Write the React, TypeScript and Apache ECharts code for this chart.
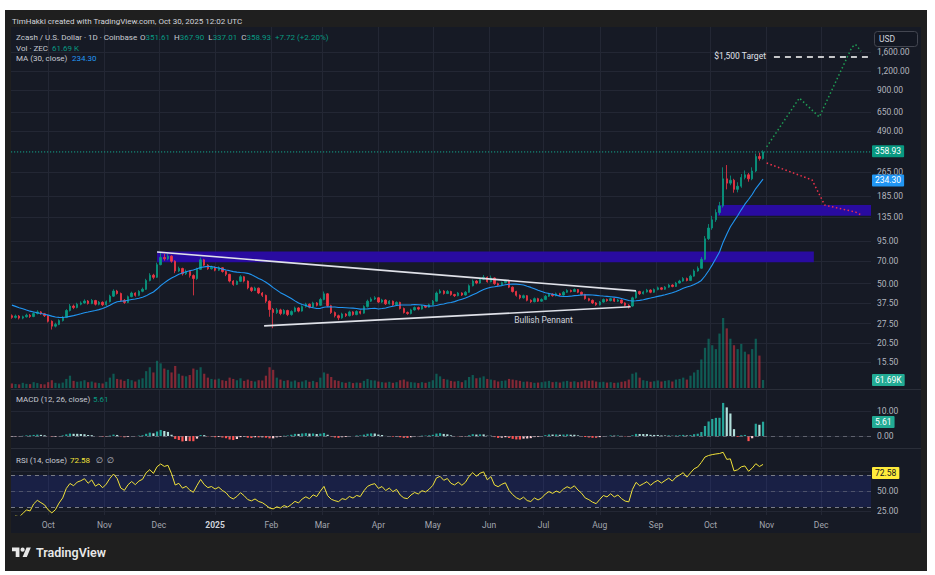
import React, { useEffect, useRef } from 'react';
import * as echarts from 'echarts';

// ---------------- data ----------------
const firstCandleDate = '2024-09-11';
const candleStepDays = 2;
const firstOpen = 31.0;
// closes before the first visible candle (warm-up for MA / RSI / MACD)
const preCloses = [41.0, 40.2, 39.5, 40.8, 38.6, 37.9, 39.0, 37.2, 36.0, 34.8, 33.5, 32.9, 31.8, 31.2];

const closes = [
  30.2, 30.8, 29.9, 30.5, 31.2, 30.6, 32.0, 32.8, 31.9, 31.0,
  28.5, 26.5, 27.2, 28.8, 30.2, 33.5, 35.8, 35.0, 36.8, 37.5,
  38.6, 37.2, 38.9, 36.8, 37.9, 36.5, 38.2, 41.5, 44.8, 43.2,
  39.0, 37.8, 41.2, 43.5, 42.0, 44.6, 46.0, 52.5, 56.8, 55.0,
  66.5, 74.0, 72.5, 75.5, 70.0, 60.5, 62.8, 58.0, 60.2, 56.5,
  54.0, 62.0, 71.5, 66.0, 62.5, 64.0, 61.2, 63.5, 60.0, 57.5,
  52.0, 49.5, 51.8, 55.5, 52.0, 47.0, 45.2, 46.8, 43.5, 42.0,
  38.5, 34.0, 32.5, 33.8, 32.0, 33.5, 31.5, 33.0, 34.8, 33.2,
  35.5, 36.8, 35.2, 37.5, 36.2, 39.5, 43.0, 36.0, 32.5, 31.0,
  30.0, 31.8, 31.0, 32.8, 31.5, 33.0, 32.2, 35.5, 38.5, 39.8,
  40.5, 38.0, 39.2, 37.0, 38.5, 36.5, 37.8, 34.5, 32.5, 32.0,
  33.8, 35.0, 34.2, 35.8, 35.2, 36.5, 38.5, 43.5, 44.8, 43.2,
  44.5, 42.5, 41.8, 43.5, 42.2, 44.0, 48.5, 52.0, 50.5, 53.5,
  55.0, 51.5, 54.5, 50.0, 49.0, 50.8, 52.0, 47.5, 44.5, 42.0,
  40.5, 41.8, 39.0, 38.2, 40.0, 38.5, 39.5, 41.5, 42.8, 41.8,
  43.0, 42.2, 44.0, 45.2, 44.5, 45.8, 44.0, 42.5, 40.0, 39.0,
  37.5, 36.5, 38.0, 39.5, 38.8, 40.0, 38.5, 39.2, 37.5, 36.2,
  35.8, 40.5, 44.5, 43.0, 44.2, 45.5, 44.0, 45.8, 47.0, 46.0,
  47.5, 49.0, 48.0, 50.5, 52.0, 54.0, 52.5, 56.0, 60.5, 63.0,
  72.0, 98.0, 115, 130, 145, 160, 240, 225, 235, 205,
  215, 245, 255, 240, 270, 335, 325, 358.93,
];

const highs = [
  31.6, 31.5, 31.3, 31.0, 31.9, 31.8, 32.6, 33.6, 33.2, 32.3,
  31.4, 28.9, 27.9, 29.4, 30.8, 34.2, 36.9, 36.6, 37.6, 38.4,
  39.6, 39.2, 39.8, 39.3, 38.6, 38.4, 38.9, 42.4, 46.0, 45.6,
  43.8, 39.8, 41.9, 44.4, 44.0, 45.4, 47.2, 53.8, 58.5, 58.0,
  68.5, 80.5, 78.0, 78.5, 76.5, 71.0, 64.5, 63.5, 61.8, 61.0,
  57.5, 63.5, 74.0, 72.5, 67.0, 65.5, 64.8, 64.8, 64.0, 60.8,
  58.0, 52.8, 52.5, 56.8, 56.2, 52.5, 47.8, 47.8, 47.2, 44.2,
  42.5, 39.0, 34.8, 34.8, 34.4, 34.2, 33.9, 33.6, 35.5, 35.2,
  36.2, 37.6, 37.2, 38.2, 38.0, 40.5, 44.5, 43.5, 36.5, 33.0,
  31.5, 32.4, 32.2, 33.4, 33.2, 33.6, 33.5, 36.2, 39.4, 40.8,
  41.5, 41.0, 39.9, 39.6, 39.2, 38.9, 38.4, 38.2, 35.0, 33.0,
  34.4, 35.6, 35.5, 36.4, 36.3, 37.1, 39.2, 44.5, 46.0, 45.4,
  45.5, 45.0, 43.0, 44.2, 44.0, 44.8, 49.5, 53.2, 52.8, 54.6,
  57.0, 55.8, 56.5, 55.0, 50.8, 51.6, 53.0, 52.5, 48.0, 45.0,
  42.6, 42.5, 42.2, 39.6, 40.7, 40.5, 40.2, 42.2, 43.6, 43.3,
  43.8, 43.6, 44.8, 46.0, 45.8, 46.6, 46.2, 44.5, 43.0, 40.5,
  39.5, 38.0, 38.6, 40.1, 40.0, 40.6, 40.4, 39.8, 39.6, 37.9,
  36.8, 41.2, 45.5, 45.0, 45.0, 46.3, 46.0, 46.6, 47.9, 47.6,
  48.3, 49.9, 49.6, 51.4, 53.0, 55.2, 54.8, 57.2, 62.0, 64.8,
  74.5, 102, 122, 138, 152, 170, 285, 295, 252, 240,
  228, 258, 272, 262, 285, 350, 355, 367.9,
];

const lows = [
  29.6, 29.7, 29.3, 29.4, 30.1, 30.0, 30.3, 31.6, 31.4, 30.4,
  28.0, 25.2, 26.0, 26.9, 28.4, 29.9, 33.0, 34.2, 34.6, 36.2,
  37.0, 36.6, 36.8, 36.1, 36.2, 35.8, 36.0, 37.8, 41.0, 42.5,
  38.2, 37.0, 37.4, 40.8, 41.2, 41.5, 44.0, 45.5, 51.8, 53.5,
  54.5, 65.8, 70.5, 71.0, 68.5, 58.5, 59.5, 56.5, 57.0, 54.8,
  42.0, 53.0, 61.5, 65.0, 61.5, 61.8, 60.2, 60.5, 59.0, 56.0,
  51.0, 48.5, 49.0, 51.2, 51.0, 46.0, 44.2, 44.8, 42.8, 41.0,
  37.5, 30.5, 25.7, 31.8, 31.2, 31.5, 30.8, 31.0, 32.6, 32.6,
  32.9, 35.0, 34.6, 34.9, 35.6, 35.8, 39.0, 35.2, 31.8, 30.2,
  29.0, 29.6, 30.4, 30.6, 31.0, 31.2, 31.6, 31.9, 35.0, 38.0,
  39.2, 37.4, 37.5, 36.4, 36.6, 35.9, 36.0, 34.0, 32.0, 31.4,
  31.6, 33.4, 33.6, 33.9, 34.7, 34.9, 36.2, 38.2, 43.0, 42.5,
  42.8, 41.8, 41.0, 41.4, 41.6, 41.8, 43.6, 48.0, 49.6, 50.0,
  52.8, 50.8, 51.0, 49.2, 48.0, 48.5, 50.2, 46.8, 43.8, 41.2,
  39.6, 40.0, 38.4, 37.5, 37.8, 38.0, 38.1, 39.1, 41.0, 41.2,
  41.4, 41.6, 41.8, 43.6, 43.9, 44.1, 43.4, 41.9, 39.4, 38.4,
  36.9, 35.9, 36.1, 37.6, 38.2, 38.4, 38.0, 38.0, 37.0, 35.6,
  34.5, 35.4, 40.0, 42.3, 42.6, 43.8, 43.4, 43.6, 45.3, 45.4,
  45.6, 47.0, 47.4, 47.6, 50.0, 51.5, 51.8, 52.0, 55.5, 59.8,
  62.5, 71.0, 96, 112, 126, 140, 156, 205, 218, 195,
  196, 210, 238, 230, 235, 265, 315, 320,
];

const volumesK = [
  35, 30, 28, 40, 32, 30, 45, 38, 30, 28,
  45, 60, 40, 35, 42, 70, 95, 55, 48, 52,
  60, 45, 50, 42, 38, 35, 48, 80, 110, 70,
  65, 55, 70, 60, 50, 65, 75, 130, 160, 120,
  210, 190, 150, 140, 120, 170, 110, 95, 90, 100,
  150, 140, 160, 110, 80, 70, 65, 72, 60, 55,
  80, 70, 60, 75, 55, 65, 55, 50, 60, 58,
  95, 160, 140, 80, 65, 55, 60, 50, 58, 45,
  50, 60, 48, 55, 45, 80, 120, 110, 85, 60,
  55, 45, 40, 48, 38, 42, 40, 55, 70, 60,
  58, 50, 45, 42, 48, 40, 45, 60, 65, 50,
  45, 42, 38, 45, 40, 48, 60, 110, 90, 70,
  65, 55, 50, 55, 45, 60, 85, 100, 75, 80,
  90, 70, 65, 60, 50, 55, 58, 70, 65, 60,
  55, 48, 50, 45, 40, 42, 45, 50, 55, 45,
  48, 42, 50, 55, 48, 52, 45, 50, 60, 55,
  58, 50, 45, 48, 42, 45, 40, 42, 48, 52,
  65, 110, 120, 80, 60, 55, 48, 52, 58, 50,
  55, 60, 50, 65, 70, 80, 65, 95, 120, 140,
  220, 310, 380, 330, 300, 420, 540, 460, 380, 330,
  300, 340, 280, 260, 300, 380, 250, 61.69,
];

// axes
const priceRange = [10.51, 2325];
const priceTicks = [15.5, 20.5, 27.5, 37.5, 50, 70, 95, 135, 185, 265, 490, 650, 900, 1200, 1600];
const volumeMaxK = 2784;
const macdRange = [-4.4, 18.4];
const macdTicks = [0, 10];
const rsiRange = [20, 102.5];
const rsiTicks = [25, 50, 75];
const rsiTickLabels = [25, 50];
const rsiLevels = [70, 50, 30];
const viewRange = ['2024-09-10T12:00:00Z', '2025-12-28T12:00:00Z'];
const timeTickDates = [
  '2024-10-01', '2024-11-01', '2024-12-01', '2025-01-01', '2025-02-01', '2025-03-01', '2025-04-01', '2025-05-01',
  '2025-06-01', '2025-07-01', '2025-08-01', '2025-09-01', '2025-10-01', '2025-11-01', '2025-12-01',
];
const timeTickLabels = ['Oct', 'Nov', 'Dec', '2025', 'Feb', 'Mar', 'Apr', 'May', 'Jun', 'Jul', 'Aug', 'Sep', 'Oct', 'Nov', 'Dec'];

// drawings
const resistanceZoneDates = ['2024-11-30', '2025-11-27'];
const resistanceZonePrices = [69, 80.8];
const breakoutZoneDates = ['2025-10-05', '2025-12-28T12:00:00Z'];
const breakoutZonePrices = [138, 162.5];
const pennantTop = [['2024-11-30', 80.4], ['2025-08-21', 44.9]];
const pennantBottom = [['2025-01-28', 26.6], ['2025-08-18', 35.4]];
const pennantLabel = ['2025-07-01', 29.2];
const bullPath = [['2025-11-01', 387], ['2025-11-19', 804], ['2025-11-30', 605], ['2025-12-18', 1720], ['2025-12-20', 1790], ['2025-12-23', 1620]];
const bearPath = [['2025-11-01', 304], ['2025-11-26', 236], ['2025-12-03', 162], ['2025-12-20', 146], ['2025-12-23', 140]];
const targetStart = '2025-11-05';
const targetPrice = 1500;

// current values shown in tags / legend
const lastClose = 358.93;
const maLast = 234.3;
const volLastK = 61.69;
const macdLast = 5.61;
const rsiLast = 72.58;

// ---------------- helpers ----------------
const DAY = 86400000;
const FONT = 'Roboto, "Noto Sans", "DejaVu Sans", sans-serif';
const UP = '#089981';
const DOWN = '#f23645';
const GRID = '#232734';
const AXIS_TXT = '#b2b5be';
const L = (v: number) => Math.log10(v);
const T = (s: string) => Date.parse(s.length === 10 ? s + 'T00:00:00Z' : s);
const fmt2 = (v: number) => v.toLocaleString('en-US', { minimumFractionDigits: 2, maximumFractionDigits: 2 });

try {
  echarts.graphic.registerShape(
    'tvlogo2',
    echarts.graphic.extendPath('M14 22H7V11H0V4h14v18zM28 22h-8l7.5-18h8L28 22zM24 8a4 4 0 1 1-8 0a4 4 0 1 1 8 0z', {}) as any
  );
} catch (e) {
  // ignore
}

function ema(src: number[], n: number) {
  const k = 2 / (n + 1);
  const out: number[] = [];
  let e = src[0];
  src.forEach((v, i) => {
    e = i === 0 ? v : e + k * (v - e);
    out.push(e);
  });
  return out;
}

function buildOption() {
  const t0 = T(firstCandleDate);
  const times = closes.map((_, i) => t0 + i * candleStepDays * DAY);
  const opens = closes.map((_, i) => (i === 0 ? firstOpen : closes[i - 1]));
  const candleData = closes.map((c, i) => {
    const o = opens[i];
    const h = Math.max(highs[i], o, c);
    const l = Math.min(lows[i], o, c);
    return [times[i], L(o), L(c), L(l), L(h)];
  });
  const volData = volumesK.map((v, i) => ({
    value: [times[i], v],
    itemStyle: { color: closes[i] >= opens[i] ? 'rgba(8,153,129,0.5)' : 'rgba(242,54,69,0.5)' },
  }));

  const all = preCloses.concat(closes);
  const off = preCloses.length;
  const maPeriod = 15; // 30 days of 2-day candles
  const maData = closes.map((_, i) => {
    const j = i + off;
    const s = all.slice(j - maPeriod + 1, j + 1);
    return [times[i], L(s.reduce((a, b) => a + b, 0) / s.length)];
  });

  const fast = ema(all, 6);
  const slow = ema(all, 13);
  const macd = all.map((_, i) => fast[i] - slow[i]);
  const sig = ema(macd, 5);
  const hist = macd.map((m, i) => m - sig[i]);
  const histData = closes.map((_, i) => {
    const j = i + off;
    const h = hist[j];
    const p = hist[j - 1];
    const color = h >= 0 ? (h > p ? '#26a69a' : '#b2dfdb') : h < p ? '#ff5252' : '#ffcdd2';
    return { value: [times[i], h], itemStyle: { color } };
  });

  const n = 12;
  const rsi: number[] = [];
  let ag = 0;
  let al = 0;
  for (let j = 1; j < all.length; j++) {
    const ch = all[j] - all[j - 1];
    const g = Math.max(ch, 0);
    const l = Math.max(-ch, 0);
    if (j <= n) {
      ag += g / n;
      al += l / n;
    } else {
      ag = (ag * (n - 1) + g) / n;
      al = (al * (n - 1) + l) / n;
    }
    rsi[j] = al === 0 ? 100 : 100 - 100 / (1 + ag / al);
  }
  const rsiData = closes.map((_, i) => [times[i], rsi[i + off]]);
  const rsiBase = closes.map((_, i) => [times[i], 70]);
  const rsiOver = closes.map((_, i) => [times[i], Math.max(rsi[i + off] - 70, 0)]);

  const tickTimes = timeTickDates.map(T);
  const xMin = T(viewRange[0]);
  const xMax = T(viewRange[1]);

  const xAxis = (gridIndex: number, showLabel: boolean) => ({
    type: 'value',
    gridIndex,
    min: xMin,
    max: xMax,
    axisLine: { show: false },
    axisTick: { show: false, customValues: tickTimes },
    splitLine: { show: true, lineStyle: { color: GRID, width: 1 } },
    axisPointer: { show: false },
    axisLabel: {
      show: showLabel,
      customValues: tickTimes,
      color: '#a3a6af',
      fontSize: 8.5,
      fontFamily: FONT,
      margin: 5,
      formatter: (v: number) => {
        let k = -1;
        tickTimes.forEach((t, idx) => {
          if (Math.abs(t - v) < DAY / 2) k = idx;
        });
        if (k < 0) return '';
        const s = timeTickLabels[k];
        return /^\d{4}$/.test(s) ? '{y|' + s + '}' : s;
      },
      rich: { y: { fontWeight: 'bold', color: '#d1d4dc', fontSize: 8.5, fontFamily: FONT } },
    },
  });

  const yAxisBase = (gridIndex: number, min: number, max: number, ticks: number[], labels: number[], fmt: (v: number) => string) => ({
    type: 'value',
    gridIndex,
    position: 'right',
    min,
    max,
    axisLine: { show: false },
    axisTick: { show: false, customValues: ticks },
    splitLine: { show: true, lineStyle: { color: GRID, width: 1 } },
    axisLabel: {
      customValues: labels,
      formatter: fmt,
      color: AXIS_TXT,
      fontSize: 8.5,
      fontFamily: FONT,
      margin: 6,
    },
  });

  const tag = (bg: string, fg: string, text: string) => ({
    show: true,
    position: 'end',
    formatter: text,
    backgroundColor: bg,
    color: fg,
    padding: [2, 3, 1, 3],
    fontSize: 8.5,
    fontFamily: FONT,
    distance: 1,
    borderRadius: 1,
  });
  const hiddenLine = { color: 'rgba(0,0,0,0)', width: 1, type: 'solid' };

  const txt = (x: number, y: number, text: string, fill: string, size = 8, extra: any = {}) => ({
    type: 'text',
    x,
    y,
    silent: true,
    z: 50,
    style: { text, fill, fontSize: size, fontFamily: FONT, verticalAlign: 'middle', ...extra },
  });

  const priceTickVals = priceTicks.map(L);

  return {
    animation: false,
    backgroundColor: 'transparent',
    grid: [
      { left: 11, top: 27, width: 860, height: 361, outerBoundsMode: 'none' },
      { left: 11, top: 390, width: 860, height: 57, outerBoundsMode: 'none' },
      { left: 11, top: 449, width: 860, height: 66, outerBoundsMode: 'none' },
    ],
    xAxis: [xAxis(0, false), xAxis(1, false), xAxis(2, true)],
    yAxis: [
      yAxisBase(0, L(priceRange[0]), L(priceRange[1]), priceTickVals, priceTickVals, (v: number) => fmt2(Math.pow(10, v))),
      { type: 'value', gridIndex: 0, show: false, min: 0, max: volumeMaxK, splitLine: { show: false } },
      yAxisBase(1, macdRange[0], macdRange[1], macdTicks, macdTicks, (v: number) => v.toFixed(2)),
      yAxisBase(2, rsiRange[0], rsiRange[1], rsiTicks, rsiTickLabels, (v: number) => v.toFixed(2)),
    ],
    series: [
      {
        type: 'line',
        name: 'zones',
        xAxisIndex: 0,
        yAxisIndex: 0,
        data: [],
        z: 1,
        silent: true,
        markArea: {
          silent: true,
          itemStyle: { color: '#290ba0' },
          data: [
            [
              { xAxis: T(resistanceZoneDates[0]), yAxis: L(resistanceZonePrices[0]) },
              { xAxis: T(resistanceZoneDates[1]), yAxis: L(resistanceZonePrices[1]) },
            ],
            [
              { xAxis: T(breakoutZoneDates[0]), yAxis: L(breakoutZonePrices[0]) },
              { xAxis: T(breakoutZoneDates[1]), yAxis: L(breakoutZonePrices[1]) },
            ],
          ],
        },
      },
      {
        type: 'line',
        name: 'priceLine',
        xAxisIndex: 0,
        yAxisIndex: 0,
        data: [
          [xMin, L(lastClose)],
          [xMax, L(lastClose)],
        ],
        showSymbol: false,
        z: 2,
        silent: true,
        lineStyle: { color: '#14a58c', width: 1, type: [1.2, 1.8] },
        markLine: {
          silent: true,
          symbol: ['none', 'none'],
          lineStyle: hiddenLine,
          label: tag(UP, '#ffffff', lastClose.toFixed(2)),
          data: [{ yAxis: L(lastClose) }],
        },
      },
      {
        type: 'bar',
        name: 'Volume',
        xAxisIndex: 0,
        yAxisIndex: 1,
        data: volData,
        barWidth: 2.2,
        z: 2,
        silent: true,
        markLine: {
          silent: true,
          symbol: ['none', 'none'],
          lineStyle: hiddenLine,
          label: tag('#22ab94', '#ffffff', volLastK.toFixed(2) + 'K'),
          data: [{ yAxis: volLastK }],
        },
      },
      {
        type: 'candlestick',
        name: 'ZECUSD',
        xAxisIndex: 0,
        yAxisIndex: 0,
        data: candleData,
        encode: { x: 0, y: [1, 2, 3, 4] },
        barWidth: 1.9,
        z: 3,
        silent: true,
        itemStyle: { color: UP, color0: DOWN, borderColor: UP, borderColor0: DOWN, borderWidth: 0.8 },
      },
      {
        type: 'line',
        name: 'MA 30',
        xAxisIndex: 0,
        yAxisIndex: 0,
        data: maData,
        showSymbol: false,
        z: 4,
        silent: true,
        lineStyle: { color: '#2196f3', width: 1.1 },
        markLine: {
          silent: true,
          symbol: ['none', 'none'],
          lineStyle: hiddenLine,
          label: tag('#2196f3', '#ffffff', maLast.toFixed(2)),
          data: [{ yAxis: L(maLast) }],
        },
      },
      {
        type: 'line',
        name: 'pennantTop',
        xAxisIndex: 0,
        yAxisIndex: 0,
        data: pennantTop.map(([d, p]) => [T(d as string), L(p as number)]),
        showSymbol: false,
        z: 6,
        silent: true,
        lineStyle: { color: '#dfe1e8', width: 1.6 },
      },
      {
        type: 'line',
        name: 'pennantBottom',
        xAxisIndex: 0,
        yAxisIndex: 0,
        data: pennantBottom.map(([d, p]) => [T(d as string), L(p as number)]),
        showSymbol: false,
        z: 6,
        silent: true,
        lineStyle: { color: '#dfe1e8', width: 1.6 },
        markPoint: {
          silent: true,
          data: [
            {
              coord: [T(pennantLabel[0] as string), L(pennantLabel[1] as number)],
              symbol: 'rect',
              symbolSize: 1,
              itemStyle: { color: 'rgba(0,0,0,0)' },
              label: { show: true, position: 'inside', formatter: 'Bullish Pennant', color: '#d1d4dc', fontSize: 8.5, fontFamily: FONT },
            },
          ],
        },
      },
      {
        type: 'line',
        name: 'bull',
        xAxisIndex: 0,
        yAxisIndex: 0,
        data: bullPath.map(([d, p]) => [T(d as string), L(p as number)]),
        showSymbol: false,
        z: 6,
        silent: true,
        lineStyle: { color: '#1f9d55', width: 1.5, type: [1.5, 2.5] },
        markLine: {
          silent: true,
          symbol: ['none', 'none'],
          lineStyle: { color: '#ffffff', width: 1.5, type: [6, 5] },
          label: {
            show: true,
            position: 'start',
            formatter: '$1,500 Target',
            color: '#e0e3eb',
            fontSize: 8.5,
            fontFamily: FONT,
            distance: 8,
          },
          data: [[{ coord: [T(targetStart), L(targetPrice)] }, { coord: [xMax, L(targetPrice)] }]],
        },
      },
      {
        type: 'line',
        name: 'bear',
        xAxisIndex: 0,
        yAxisIndex: 0,
        data: bearPath.map(([d, p]) => [T(d as string), L(p as number)]),
        showSymbol: false,
        z: 6,
        silent: true,
        lineStyle: { color: '#f0324a', width: 1.5, type: [1.5, 2.5] },
      },
      {
        type: 'bar',
        name: 'MACD hist',
        xAxisIndex: 1,
        yAxisIndex: 2,
        data: histData,
        barWidth: 2.2,
        z: 3,
        silent: true,
        markLine: {
          silent: true,
          symbol: ['none', 'none'],
          label: { show: false },
          data: [
            { yAxis: 0, lineStyle: { color: '#787b86', type: [4, 4], width: 1, opacity: 0.7 } },
            { yAxis: macdLast, lineStyle: hiddenLine, label: tag('#22ab94', '#ffffff', macdLast.toFixed(2)) },
          ],
        },
      },
      {
        type: 'line',
        name: 'rsiBase',
        xAxisIndex: 2,
        yAxisIndex: 3,
        data: rsiBase,
        stack: 'ob',
        showSymbol: false,
        silent: true,
        z: 2,
        lineStyle: { opacity: 0, width: 0 },
      },
      {
        type: 'line',
        name: 'rsiOver',
        xAxisIndex: 2,
        yAxisIndex: 3,
        data: rsiOver,
        stack: 'ob',
        showSymbol: false,
        silent: true,
        z: 2,
        lineStyle: { opacity: 0, width: 0 },
        areaStyle: { color: 'rgba(76,175,80,0.55)' },
      },
      {
        type: 'line',
        name: 'RSI',
        xAxisIndex: 2,
        yAxisIndex: 3,
        data: rsiData,
        showSymbol: false,
        z: 5,
        silent: true,
        lineStyle: { color: '#f2e33a', width: 1 },
        markArea: {
          silent: true,
          itemStyle: { color: 'rgba(40,60,200,0.2)' },
          data: [[{ yAxis: rsiLevels[2] }, { yAxis: rsiLevels[0] }]],
        },
        markLine: {
          silent: true,
          symbol: ['none', 'none'],
          label: { show: false },
          data: [
            { yAxis: rsiLevels[0], lineStyle: { color: '#787b86', type: [4, 4], width: 1 } },
            { yAxis: rsiLevels[1], lineStyle: { color: 'rgba(120,123,134,0.5)', type: [4, 4], width: 1 } },
            { yAxis: rsiLevels[2], lineStyle: { color: '#787b86', type: [4, 4], width: 1 } },
            { yAxis: rsiLast, lineStyle: hiddenLine, label: tag('#ffeb3b', '#131722', rsiLast.toFixed(2)) },
          ],
        },
      },
    ],
    graphic: [
      txt(12, 21, 'TimHakki created with TradingView.com, Oct 30, 2025 12:02 UTC', '#d1d4dc', 8),
      txt(16, 37.5, 'Zcash / U.S. Dollar · 1D · Coinbase', '#c7cad2', 8),
      {
        type: 'text',
        x: 140,
        y: 37.5,
        silent: true,
        z: 50,
        style: {
          text: '{k|O}{v|351.61}  {k|H}{v|367.90}  {k|L}{v|337.01}  {k|C}{v|358.93}  {v|+7.72 (+2.20%)}',
          fontSize: 8,
          fontFamily: FONT,
          verticalAlign: 'middle',
          rich: {
            k: { fill: '#c7cad2', fontSize: 8, fontFamily: FONT },
            v: { fill: UP, fontSize: 8, fontFamily: FONT },
          },
        },
      },
      txt(16, 48, 'Vol · ZEC', '#c7cad2', 8),
      txt(52, 48, '61.69 K', UP, 8),
      txt(16, 58.5, 'MA (30, close)', '#c7cad2', 8),
      txt(72, 58.5, '234.30', '#2196f3', 8),
      txt(16, 399, 'MACD (12, 26, close)', '#c7cad2', 8),
      txt(93, 399, '5.61', UP, 8),
      txt(16, 460.5, 'RSI (14, close)', '#c7cad2', 8),
      txt(70, 460.5, '72.58', '#f2e33a', 8),
      txt(96, 460.5, '∅  ∅', '#c7cad2', 8),
      {
        type: 'rect',
        silent: true,
        z: 40,
        shape: { x: 874.5, y: 31.5, width: 43, height: 15, r: 3 },
        style: { fill: '#131722', stroke: '#434651', lineWidth: 1 },
      },
      txt(879, 39, 'USD', '#d1d4dc', 8.5),
      {
        type: 'line',
        silent: true,
        z: 40,
        shape: { x1: 11, y1: 389.5, x2: 921, y2: 389.5 },
        style: { stroke: '#2a2e39', lineWidth: 1 },
      },
      {
        type: 'line',
        silent: true,
        z: 40,
        shape: { x1: 11, y1: 448.5, x2: 921, y2: 448.5 },
        style: { stroke: '#2a2e39', lineWidth: 1 },
      },
      {
        type: 'tvlogo2',
        x: 12,
        y: 545.4,
        scaleX: 0.53,
        scaleY: 0.53,
        silent: true,
        z: 50,
        style: { fill: '#e8e8e8' },
      },
      txt(36, 552, 'TradingView', '#e8e8e8', 12.5, { fontWeight: 600 }),
    ],
  };
}

export default function App() {
  const ref = useRef<HTMLDivElement>(null);
  useEffect(() => {
    document.body.style.margin = '0';
    const chart = echarts.init(ref.current as HTMLDivElement, null, { renderer: 'svg' });
    try {
      chart.setOption(buildOption() as any);
    } catch (e) {
      console.error(e);
    }
    return () => chart.dispose();
  }, []);
  return (
    <div style={{ position: 'relative', width: 935, height: 575, background: '#ffffff', overflow: 'hidden' }}>
      <div style={{ position: 'absolute', left: 5, top: 10, width: 922, height: 561, background: '#1f1f1f' }} />
      <div style={{ position: 'absolute', left: 11, top: 27, width: 910, height: 506, background: '#161a25' }} />
      <div ref={ref} style={{ position: 'absolute', left: 0, top: 0, width: 935, height: 575 }} />
    </div>
  );
}
